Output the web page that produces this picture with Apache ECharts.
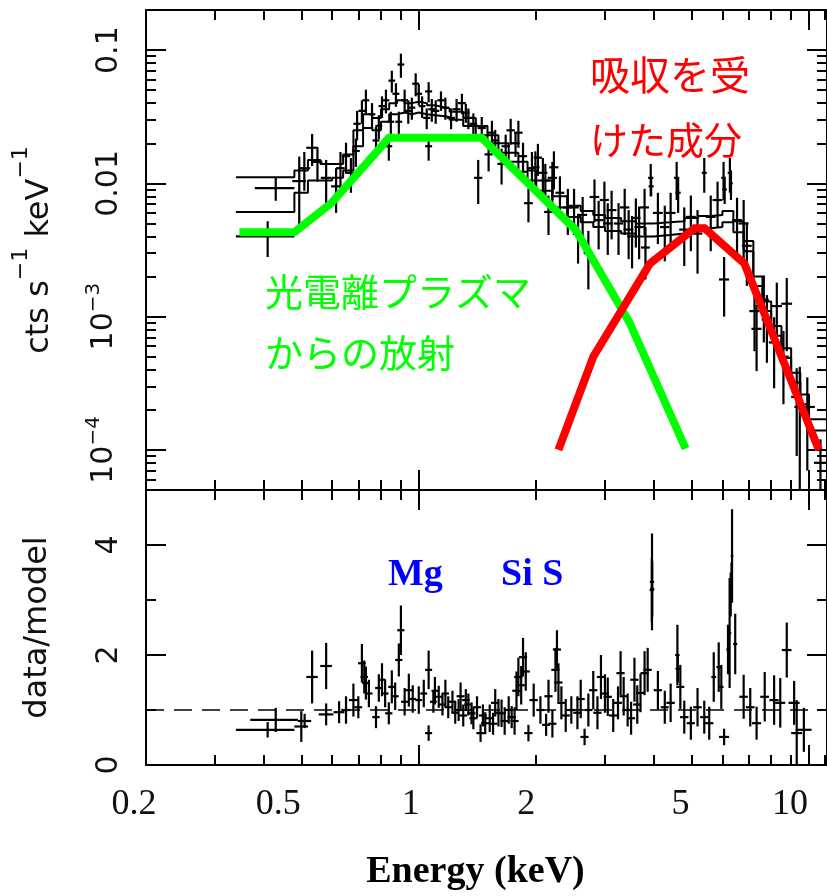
<!DOCTYPE html>
<html><head><meta charset="utf-8">
<script src="https://cdn.jsdelivr.net/npm/echarts@6/dist/echarts.min.js"></script>
<style>html,body{margin:0;padding:0;background:#fff}#c{width:827px;height:896px}</style>
</head><body><div id="c"></div>
<script>
// ---------------- axis ranges & ticks ----------------
const xMin = 0.2, xMax = 11.12;
const yTopMin = 5e-5, yTopMax = 0.2;
const yBotMin = 0, yBotMax = 5;
const xTicksMinor = [0.3,0.4,0.5,0.6,0.7,0.8,0.9,2,3,4,5,6,7,8,9,11];
const xTicksMajor = [1,10];
const xLabelValues = [0.2,0.5,1,2,5,10];
const xLabelTexts = ['0.2','0.5','1','2','5','10'];
const yTopTicksMajor = [1e-4,1e-3,0.01,0.1];
const yTopTicksMinor = [6e-5,7e-5,8e-5,9e-5,2e-4,3e-4,4e-4,5e-4,6e-4,7e-4,8e-4,9e-4,
  2e-3,3e-3,4e-3,5e-3,6e-3,7e-3,8e-3,9e-3,0.02,0.03,0.04,0.05,0.06,0.07,0.08,0.09,0.2];
const yTopLabelTexts = ['10{s|−4}','10{s|−3}','0.01','0.1'];
const yBotTicksMajor = [0,2,4];
const yBotTicksMinor = [1,3,5];
const yBotLabelTexts = ['0','2','4'];

// ---------------- spectrum (top panel) ----------------
const specE = [
 0.41,0.43,0.494,0.509,0.533,0.55,0.579,0.614,0.63,0.651,
 0.67,0.69,0.695,0.715,0.732,0.759,0.777,0.79,0.805,0.824,
 0.838,0.848,0.853,0.874,0.889,0.90,0.92,0.94,0.96,0.982,
 1.00,1.02,1.048,1.06,1.06,1.08,1.105,1.14,1.17,1.21,
 1.25,1.29,1.32,1.34,1.38,1.42,1.45,1.51,1.54,1.57,
 1.63,1.67,1.72,1.77,1.80,1.85,1.91,1.95,1.99,2.02,
 2.08,2.11,2.15,2.20,2.22,2.30,2.41,2.50,2.56,2.63,
 2.72,2.82,2.89,2.99,3.05,3.12,3.25,3.37,3.45,3.52,
 3.60,3.67,3.79,3.81,3.93,3.94,4.10,4.27,4.42,4.58,
 4.62,4.79,4.98,5.18,5.39,5.60,5.83,6.04,6.08,6.06,
 6.27,6.31,6.54,6.80,6.93,7.25,7.34,7.66,7.80,8.14,
 8.27,8.60,8.77,9.30,9.47,9.90,10.7];
const specHalfWidth = [
 0.07,0.05,0.02,0.018,0.018,0.016,0.018,0.018,0.016,0.016,
 0.016,0.016,0.015,0.015,0.015,0.015,0.016,0.016,0.016,0.017,
 0.017,0.017,0.017,0.018,0.018,0.018,0.019,0.019,0.02,0.02,
 0.02,0.02,0.022,0.022,0.022,0.022,0.024,0.025,0.026,0.028,
 0.03,0.03,0.03,0.032,0.032,0.035,0.035,0.036,0.036,0.038,
 0.04,0.04,0.042,0.045,0.045,0.045,0.05,0.05,0.05,0.05,
 0.055,0.055,0.055,0.06,0.06,0.06,0.065,0.07,0.07,0.07,
 0.075,0.08,0.08,0.08,0.085,0.09,0.09,0.095,0.1,0.1,
 0.1,0.1,0.1,0.1,0.06,0.06,0.12,0.12,0.13,0.07,
 0.07,0.14,0.15,0.15,0.08,0.16,0.17,0.08,0.08,0.18,
 0.08,0.07,0.19,0.2,0.2,0.22,0.22,0.23,0.24,0.25,
 0.26,0.27,0.28,0.3,0.3,0.45,0.4];
const specFlux = [
 0.0040,0.0092,0.0104,0.0130,0.0185,0.0145,0.0110,0.0095,0.0130,0.0160,
 0.0120,0.0175,0.0280,0.0350,0.0420,0.0330,0.0210,0.0270,0.0380,0.0420,
 0.0190,0.0290,0.0590,0.0470,0.0290,0.0780,0.0420,0.0350,0.0370,0.0560,
 0.0470,0.0380,0.0310,0.0490,0.0190,0.0360,0.0350,0.0420,0.0370,0.0310,
 0.0360,0.0400,0.0340,0.0310,0.0280,0.0110,0.0260,0.0165,0.0240,0.0210,
 0.0140,0.0190,0.0250,0.0200,0.0240,0.0160,0.0071,0.0130,0.0132,0.0156,
 0.0120,0.0105,0.0061,0.0110,0.0132,0.0085,0.0066,0.0066,0.0042,0.0058,
 0.0030,0.0079,0.0053,0.0075,0.0050,0.0063,0.0050,0.0066,0.0045,0.0040,
 0.0055,0.0047,0.0066,0.0033,0.0110,0.0095,0.0060,0.0047,0.0060,0.0110,
 0.0085,0.0045,0.0056,0.0042,0.0120,0.0056,0.0075,0.0110,0.0090,0.0019,
 0.0120,0.0100,0.0053,0.0050,0.0034,0.00110,0.00081,0.00134,0.00095,0.00064,
 0.00120,0.00050,0.00125,0.00025,0.00021,0.00021,0.00008];
const specFluxErr = [
 0.0012,0.0018,0.0055,0.0042,0.0050,0.0042,0.0040,0.0035,0.0042,0.0042,
 0.0035,0.0042,0.0070,0.0070,0.0085,0.0070,0.0055,0.0055,0.0070,0.0085,
 0.0042,0.0055,0.0110,0.0095,0.0055,0.0160,0.0085,0.0070,0.0070,0.0110,
 0.0085,0.0070,0.0055,0.0085,0.0042,0.0070,0.0070,0.0070,0.0070,0.0055,
 0.0070,0.0070,0.0055,0.0055,0.0055,0.0040,0.0055,0.0042,0.0055,0.0042,
 0.0042,0.0042,0.0055,0.0042,0.0055,0.0042,0.0020,0.0042,0.0042,0.0042,
 0.0035,0.0035,0.0020,0.0035,0.0042,0.0028,0.0025,0.0025,0.0017,0.0021,
 0.0014,0.0028,0.0021,0.0028,0.0021,0.0025,0.0021,0.0025,0.0018,0.0017,
 0.0022,0.0020,0.0025,0.0014,0.0030,0.0015,0.0025,0.0021,0.0025,0.0035,
 0.0025,0.0021,0.0025,0.0021,0.0035,0.0025,0.0028,0.0035,0.0020,0.0009,
 0.0035,0.0025,0.0025,0.0025,0.0017,0.00055,0.00042,0.0007,0.0005,0.00035,
 0.0006,0.00028,0.0007,0.00016,0.00021,0.00014,0.00004];

// ---------------- folded model (two instruments, step histograms) ----------------
const modelEdges = [0.34,0.48,0.52,0.56,0.60,0.64,0.68,0.72,0.76,0.80,
 0.84,0.88,0.92,0.96,1.00,1.05,1.10,1.15,1.20,1.30,
 1.40,1.50,1.60,1.70,1.80,1.90,2.00,2.20,2.40,2.60,
 2.80,3.00,3.30,3.60,4.00,4.40,4.80,5.20,5.60,6.00,
 6.40,6.80,7.20,7.60,8.00,8.50,9.00,9.50,10.0,11.2];
const modelA = [0.0111,0.0125,0.0150,0.0140,0.0140,0.0165,0.0250,0.0330,0.0310,0.0360,
 0.0400,0.0420,0.0400,0.0410,0.0400,0.0385,0.0375,0.0365,0.0345,0.0310,
 0.0270,0.0230,0.0200,0.0170,0.0145,0.0125,0.0105,0.0080,0.0068,0.0062,
 0.0058,0.0055,0.0052,0.0050,0.0051,0.0052,0.0055,0.0057,0.0058,0.0062,
 0.0052,0.0037,0.0020,0.0013,0.00085,0.00058,0.00038,0.00026,0.00017];
const modelB = [0.0061,0.0085,0.0105,0.0105,0.0110,0.0125,0.0190,0.0260,0.0250,0.0290,
 0.0330,0.0340,0.0330,0.0340,0.0330,0.0325,0.0320,0.0315,0.0300,0.0270,
 0.0230,0.0200,0.0170,0.0145,0.0122,0.0105,0.0088,0.0066,0.0056,0.0051,
 0.0047,0.0044,0.0042,0.0040,0.0041,0.0042,0.0044,0.0046,0.0047,0.0051,
 0.0043,0.0031,0.0017,0.0011,0.00072,0.00049,0.00032,0.00022,0.00014];

// ---------------- model components ----------------
const plasmaE = [0.347,0.48,0.597,0.839,1.448,2.52,3.47,4.83];
const plasmaFlux = [4.3e-3,4.3e-3,7.1e-3,0.022,0.022,4.5e-3,9.0e-4,1.02e-4];
const absorbedE = [2.28,2.80,3.91,5.09,5.40,6.83,10.6];
const absorbedFlux = [1.0e-4,5.0e-4,2.5e-3,4.6e-3,4.6e-3,2.5e-3,1.0e-4];

// ---------------- ratio (bottom panel) ----------------
const ratioE = [
 0.41,0.43,0.50,0.51,0.533,0.579,0.579,0.625,0.651,0.68,
 0.70,0.715,0.725,0.732,0.745,0.777,0.79,0.805,0.82,0.838,
 0.853,0.87,0.889,0.90,0.92,0.943,0.965,1.00,1.03,1.06,
 1.06,1.09,1.10,1.125,1.15,1.17,1.19,1.22,1.24,1.265,
 1.28,1.30,1.32,1.34,1.365,1.38,1.41,1.44,1.46,1.48,
 1.52,1.55,1.57,1.60,1.63,1.66,1.70,1.73,1.76,1.78,
 1.80,1.83,1.85,1.88,1.91,1.97,2.05,2.12,2.15,2.20,
 2.24,2.26,2.28,2.32,2.38,2.46,2.55,2.60,2.66,2.72,
 2.80,2.87,2.93,3.00,3.05,3.15,3.24,3.29,3.35,3.43,
 3.50,3.57,3.63,3.70,3.79,3.86,3.955,3.96,3.965,4.10,
 4.27,4.42,4.60,4.61,4.68,4.79,4.98,5.18,5.39,5.55,
 5.70,5.87,5.96,6.06,6.20,6.26,6.30,6.33,6.35,6.47,
 6.80,7.07,7.34,7.70,8.14,8.44,8.77,9.16,9.30,9.70];
const ratioHalfWidth = [
 0.07,0.06,0.02,0.02,0.018,0.02,0.025,0.02,0.018,0.018,
 0.016,0.016,0.016,0.016,0.016,0.017,0.017,0.017,0.017,0.018,
 0.018,0.018,0.019,0.019,0.019,0.02,0.02,0.02,0.021,0.022,
 0.022,0.022,0.022,0.024,0.024,0.025,0.025,0.027,0.028,0.028,
 0.03,0.03,0.03,0.032,0.032,0.032,0.034,0.035,0.035,0.036,
 0.036,0.037,0.038,0.038,0.04,0.04,0.04,0.042,0.042,0.044,
 0.044,0.045,0.045,0.046,0.047,0.048,0.05,0.05,0.052,0.053,
 0.054,0.054,0.055,0.056,0.058,0.06,0.062,0.063,0.064,0.066,
 0.068,0.07,0.07,0.072,0.074,0.076,0.078,0.08,0.08,0.082,
 0.084,0.086,0.087,0.09,0.09,0.093,0.05,0.05,0.05,0.1,
 0.1,0.11,0.06,0.06,0.11,0.12,0.12,0.13,0.13,0.14,
 0.08,0.08,0.08,0.18,0.06,0.06,0.05,0.05,0.05,0.08,
 0.17,0.18,0.2,0.2,0.22,0.25,0.25,0.3,0.3,0.45];
const ratioValue = [
 0.64,0.82,0.70,0.80,1.60,1.80,0.92,0.96,1.00,1.18,
 1.05,1.85,1.60,1.49,1.30,0.87,1.40,1.55,1.30,0.94,
 1.42,1.25,1.91,2.45,1.15,1.36,1.20,1.18,1.30,1.73,
 0.58,1.15,1.35,1.24,1.10,1.30,1.05,1.15,0.95,1.00,
 1.25,0.90,1.18,1.10,0.94,0.85,1.05,0.58,0.90,0.76,
 0.85,0.75,1.13,0.95,0.94,0.80,1.00,0.87,0.80,1.35,
 1.60,1.45,1.96,1.70,0.58,1.18,1.00,0.73,1.25,0.75,
 1.73,2.10,1.50,1.13,0.90,1.00,0.95,1.20,0.51,1.00,
 1.36,0.95,1.60,1.30,1.24,0.90,1.13,1.67,1.25,1.00,
 0.85,1.55,1.10,1.31,1.67,1.73,3.18,3.33,3.20,1.36,
 1.05,1.13,2.00,1.75,1.42,0.87,0.76,1.05,0.87,0.76,
 1.60,1.78,1.42,0.51,2.10,2.40,3.10,3.35,3.80,2.20,
 1.24,1.05,0.76,1.24,1.18,1.13,2.09,1.13,0.58,0.64];
const ratioErr = [
 0.14,0.22,0.28,0.13,0.48,0.42,0.2,0.2,0.25,0.3,
 0.2,0.35,0.3,0.3,0.25,0.2,0.25,0.3,0.25,0.2,
 0.3,0.25,0.3,0.45,0.25,0.3,0.25,0.25,0.25,0.35,
 0.14,0.2,0.25,0.2,0.2,0.25,0.2,0.2,0.2,0.2,
 0.25,0.2,0.2,0.2,0.2,0.2,0.2,0.16,0.2,0.2,
 0.25,0.2,0.25,0.25,0.25,0.25,0.25,0.2,0.25,0.35,
 0.35,0.35,0.35,0.35,0.15,0.3,0.25,0.2,0.3,0.25,
 0.4,0.35,0.35,0.3,0.3,0.25,0.3,0.35,0.15,0.3,
 0.35,0.3,0.4,0.35,0.35,0.3,0.3,0.4,0.35,0.3,
 0.3,0.4,0.35,0.35,0.4,0.4,0.58,0.88,0.5,0.35,
 0.3,0.35,0.55,0.25,0.4,0.3,0.3,0.35,0.3,0.3,
 0.45,0.45,0.4,0.15,0.45,1.0,0.4,0.33,0.85,0.55,
 0.4,0.35,0.3,0.45,0.45,0.45,0.5,0.4,0.6,0.4];

// ---------------- build ----------------
const chart = echarts.init(document.getElementById('c'), null, {renderer: 'canvas'});

function crossRenderer(yFloor) {
  return function (params, api) {
    const x = api.value(0), y = api.value(1), dx = api.value(2), dy = api.value(3);
    const c = api.coord([x, y]);
    const l = api.coord([x - dx, y]);
    const r = api.coord([x + dx, y]);
    const lo = api.coord([x, Math.max(y - dy, yFloor)]);
    const hi = api.coord([x, y + dy]);
    const st = {stroke: '#000', lineWidth: 2.2};
    return {type: 'group', children: [
      {type: 'line', shape: {x1: l[0], y1: c[1], x2: r[0], y2: c[1]}, style: st},
      {type: 'line', shape: {x1: c[0], y1: lo[1], x2: c[0], y2: hi[1]}, style: st}
    ]};
  };
}
function stepData(edges, vals) {
  const out = vals.map((v, i) => [edges[i], v]);
  out.push([edges[edges.length - 1], vals[vals.length - 1]]);
  return out;
}
const lineCol = '#000';
function xAx(gi, pos, ticks, len, showLine, extra) {
  return Object.assign({
    type: 'log', logBase: 10, gridIndex: gi, position: pos, min: xMin, max: xMax,
    axisLine: {show: showLine, onZero: false, lineStyle: {color: lineCol, width: 2}},
    axisTick: {show: true, inside: true, length: len, customValues: ticks, lineStyle: {color: lineCol, width: 2}},
    axisLabel: {show: false}, splitLine: {show: false}, minorTick: {show: false}
  }, extra || {});
}
function yAx(gi, pos, type, mn, mx, ticks, len, showLine, extra) {
  const o = {
    type: type, gridIndex: gi, position: pos, min: mn, max: mx,
    axisLine: {show: showLine, onZero: false, lineStyle: {color: lineCol, width: 2}},
    axisTick: {show: true, inside: true, length: len, customValues: ticks, lineStyle: {color: lineCol, width: 2}},
    axisLabel: {show: false}, splitLine: {show: false}
  };
  if (type === 'log') o.logBase = 10;
  return Object.assign(o, extra || {});
}
const tickFont = {fontFamily: 'DejaVu Sans', fontSize: 30, color: '#111'};
const xLabelPad = {'0.2': 24, '0.5': 46, '1': 16, '2': 20, '5': 22, '10': 38};
const xRich = {};
xLabelTexts.forEach((t, i) => { xRich['p' + i] = {padding: [0, xLabelPad[t], 0, 0], fontFamily: 'Liberation Serif', fontSize: 36, color: '#111'}; });

function nearestIdx(arr, v, isLog) {
  let best = 0, bd = Infinity;
  arr.forEach((a, i) => { const d = isLog ? Math.abs(Math.log10(a) - Math.log10(v)) : Math.abs(a - v); if (d < bd) { bd = d; best = i; } });
  return best;
}

const option = {
  animation: false,
  backgroundColor: '#fff',
  grid: [
    {left: 146, top: 10, width: 684, height: 480, containLabel: false},
    {left: 146, top: 490, width: 684, height: 275, containLabel: false}
  ],
  xAxis: [
    xAx(0, 'bottom', xTicksMinor, 10, true),
    xAx(0, 'bottom', xTicksMajor, 20, false),
    xAx(0, 'top', xTicksMinor, 10, true),
    xAx(0, 'top', xTicksMajor, 20, false),
    xAx(1, 'bottom', xTicksMinor, 10, true, {
      name: 'Energy (keV)', nameLocation: 'middle', nameGap: 88,
      nameTextStyle: {fontFamily: 'Liberation Serif', fontWeight: 'bold', fontSize: 38, color: '#000', padding: [0, 22, 0, 0]}
    }),
    xAx(1, 'bottom', xTicksMajor, 20, false, {
      axisLabel: {show: true, customValues: xLabelValues, margin: 22, align: 'center', rich: xRich,
        formatter: v => { const i = nearestIdx(xLabelValues, v, true); return '{p' + i + '|' + xLabelTexts[i] + '}'; }}
    }),
    xAx(1, 'top', xTicksMinor, 10, true),
    xAx(1, 'top', xTicksMajor, 20, false)
  ],
  yAxis: [
    yAx(0, 'left', 'log', yTopMin, yTopMax, yTopTicksMinor, 10, true, {
      name: '{n|cts s}{s|−1}{n| keV}{s|−1}', nameLocation: 'middle', nameRotate: 90, nameGap: 90,
      nameTextStyle: {fontFamily: 'DejaVu Sans', fontSize: 32, color: '#111',
        rich: {n: {fontFamily: 'DejaVu Sans', fontSize: 32, lineHeight: 46, verticalAlign: 'bottom', color: '#111'},
               s: {fontFamily: 'DejaVu Sans', fontSize: 22, lineHeight: 46, verticalAlign: 'top', color: '#111'}}}
    }),
    yAx(0, 'left', 'log', yTopMin, yTopMax, yTopTicksMajor, 20, false, {
      axisLabel: Object.assign({show: true, customValues: yTopTicksMajor, rotate: 90, margin: 22,
        formatter: v => yTopLabelTexts[nearestIdx(yTopTicksMajor, v, true)],
        rich: {s: {fontFamily: 'DejaVu Sans', fontSize: 20, verticalAlign: 'top', lineHeight: 40, color: '#111'}}}, tickFont)
    }),
    yAx(0, 'right', 'log', yTopMin, yTopMax, yTopTicksMinor, 10, true),
    yAx(0, 'right', 'log', yTopMin, yTopMax, yTopTicksMajor, 20, false),
    yAx(1, 'left', 'value', yBotMin, yBotMax, yBotTicksMinor, 10, true, {
      name: 'data/model', nameLocation: 'middle', nameRotate: 90, nameGap: 92,
      nameTextStyle: {fontFamily: 'DejaVu Sans', fontSize: 32, color: '#111'}
    }),
    yAx(1, 'left', 'value', yBotMin, yBotMax, yBotTicksMajor, 20, false, {
      axisLabel: Object.assign({show: true, customValues: yBotTicksMajor, rotate: 90, margin: 22,
        formatter: v => yBotLabelTexts[nearestIdx(yBotTicksMajor, v, false)]}, tickFont)
    }),
    yAx(1, 'right', 'value', yBotMin, yBotMax, yBotTicksMinor, 10, true),
    yAx(1, 'right', 'value', yBotMin, yBotMax, yBotTicksMajor, 20, false)
  ],
  series: [
    {type: 'custom', name: 'spectrum', xAxisIndex: 0, yAxisIndex: 0, clip: true, z: 3,
     renderItem: crossRenderer(yTopMin),
     encode: {x: 0, y: 1},
     data: specE.map((e, i) => [e, specFlux[i], specHalfWidth[i], specFluxErr[i]])},
    {type: 'line', name: 'modelA', xAxisIndex: 0, yAxisIndex: 0, step: 'end', showSymbol: false, symbol: 'none', z: 3,
     lineStyle: {color: '#000', width: 2}, data: stepData(modelEdges, modelA), silent: true},
    {type: 'line', name: 'modelB', xAxisIndex: 0, yAxisIndex: 0, step: 'end', showSymbol: false, symbol: 'none', z: 3,
     lineStyle: {color: '#000', width: 2}, data: stepData(modelEdges, modelB), silent: true},
    {type: 'line', name: 'photoionized', xAxisIndex: 0, yAxisIndex: 0, showSymbol: false, symbol: 'none', z: 5,
     lineStyle: {color: '#00ff00', width: 8, cap: 'butt', join: 'miter'}, data: plasmaE.map((e, i) => [e, plasmaFlux[i]]), silent: true},
    {type: 'line', name: 'absorbed', xAxisIndex: 0, yAxisIndex: 0, showSymbol: false, symbol: 'none', z: 5,
     lineStyle: {color: '#ff0000', width: 8, cap: 'butt', join: 'miter'}, data: absorbedE.map((e, i) => [e, absorbedFlux[i]]), silent: true},
    {type: 'custom', name: 'ratio', xAxisIndex: 4, yAxisIndex: 4, clip: true, z: 3,
     renderItem: crossRenderer(yBotMin),
     encode: {x: 0, y: 1},
     data: ratioE.map((e, i) => [e, ratioValue[i], ratioHalfWidth[i], ratioErr[i]]),
     markLine: {silent: true, symbol: 'none', label: {show: false},
       lineStyle: {color: '#000', width: 1.5, type: [18, 10]}, data: [{yAxis: 1}]}}
  ],
  graphic: [
    {type: 'text', left: 265, top: 273, style: {text: '光電離プラズマ', fill: '#00ff00', font: '38px "Noto Sans CJK JP"'}},
    {type: 'text', left: 265, top: 334, style: {text: 'からの放射', fill: '#00ff00', font: '38px "Noto Sans CJK JP"'}},
    {type: 'text', left: 590, top: 55, style: {text: '吸収を受', fill: '#ff0000', font: '40px "Noto Sans CJK JP"'}},
    {type: 'text', left: 590, top: 121, style: {text: 'けた成分', fill: '#ff0000', font: '38px "Noto Sans CJK JP"'}},
    {type: 'text', left: 388, top: 556, style: {text: 'Mg', fill: '#0000ff', font: 'bold 38px "Liberation Serif"'}},
    {type: 'text', left: 501, top: 556, style: {text: 'Si S', fill: '#0000ff', font: 'bold 38px "Liberation Serif"'}}
  ]
};
chart.setOption(option);
</script></body></html>
